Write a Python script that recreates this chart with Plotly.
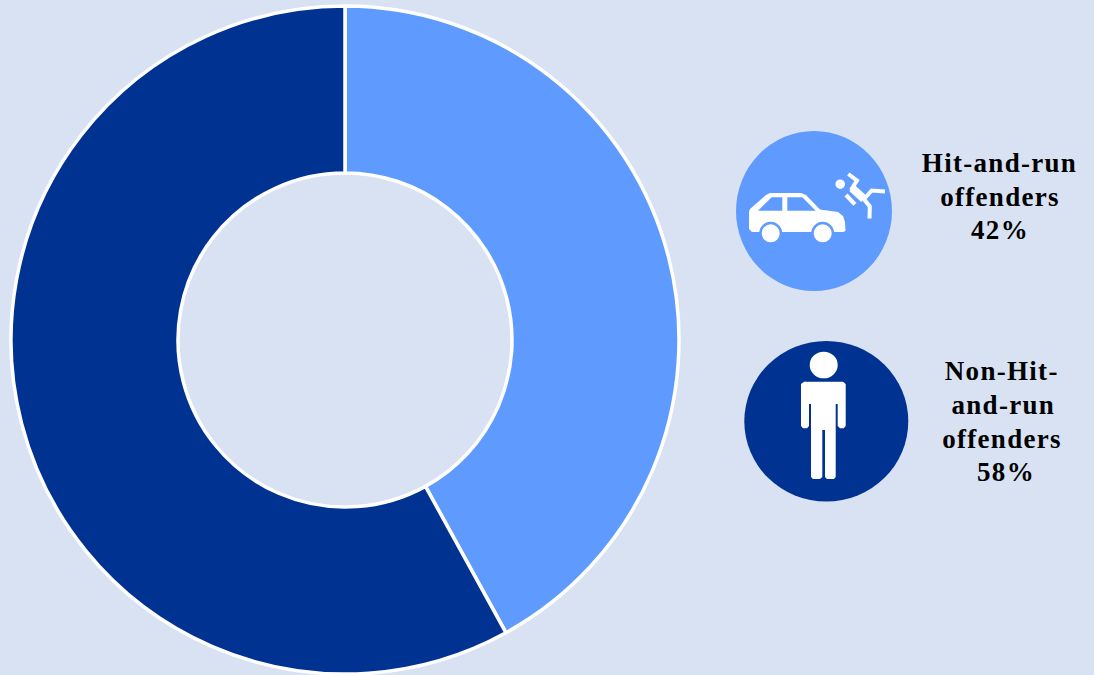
import plotly.graph_objects as go

WIDTH, HEIGHT = 1094, 675

# Share of offenders per group
categories = ["Hit-and-run offenders", "Non-Hit-and-run offenders"]
shares = [42, 58]
label_lines = [["Hit-and-run", "offenders"], ["Non-Hit-", "and-run", "offenders"]]

# Centre of each caption line, in page pixels
caption_x = [[999.5, 999.5, 999.5], [1002, 1003, 1002, 1005.5]]
caption_y = [[163, 197, 230], [371, 405.5, 439, 472]]

LIGHT = "#5F9BFF"
DARK = "#003391"
BACKGROUND = "#D9E2F3"
WHITE = "#FFFFFF"


def fx(x):
    return x / WIDTH


def fy(y):
    return 1 - y / HEIGHT


def path(points, close=True):
    body = " L ".join(f"{fx(x):.5f},{fy(y):.5f}" for x, y in points)
    return "M " + body + (" Z" if close else "")


def ellipse(cx, cy, rx, ry, color):
    return dict(type="circle", xref="paper", yref="paper",
                x0=fx(cx - rx), x1=fx(cx + rx), y0=fy(cy + ry), y1=fy(cy - ry),
                fillcolor=color, line_width=0)


def polygon(points, color=WHITE):
    return dict(type="path", xref="paper", yref="paper", path=path(points),
                fillcolor=color, line_width=0)


def stroke(points, width=4):
    return dict(type="path", xref="paper", yref="paper", path=path(points, close=False),
                line=dict(color=WHITE, width=width))


# Badge behind the car icon
shapes = [ellipse(814, 211, 78, 80, LIGHT)]

# Car body, windows and wheels
shapes += [
    polygon([(749, 212), (750, 209), (766, 195), (770, 193), (801, 193), (806, 195),
             (820, 209.5), (838, 212), (843, 216), (845, 222), (845.5, 231), (843, 232),
             (752, 232), (749, 229)]),
    polygon([(758, 210.7), (771.7, 197.3), (782.3, 197.3), (782.3, 210.7)], LIGHT),
    polygon([(787.3, 197.3), (802.3, 197.3), (815.7, 210.7), (787.3, 210.7)], LIGHT),
    ellipse(770.7, 233.3, 11.5, 11.5, LIGHT),
    ellipse(822.7, 233.3, 11.5, 11.5, LIGHT),
    ellipse(770.7, 233.3, 9, 9, WHITE),
    ellipse(822.7, 233.3, 9, 9, WHITE),
]

# Falling pedestrian
shapes += [
    ellipse(840.2, 184.2, 4.8, 4.8, WHITE),
    stroke([(848.3, 174), (857, 180.5), (851, 190)], 4),
    stroke([(852, 188), (864, 199)], 8),
    stroke([(846, 195), (855, 204.5)], 4),
    stroke([(864, 199), (871.7, 190.5), (885, 191.5)], 4),
    stroke([(863, 198), (869.8, 206.5), (869.5, 218.5)], 4),
]

# Badge behind the standing figure
shapes += [
    ellipse(826.3, 421.3, 82, 80.3, DARK),
    ellipse(823.7, 365, 14, 13.3, WHITE),
    polygon([(804, 381.7), (843, 381.7), (845.7, 384), (845.7, 426), (843.7, 428.3), (840, 428.3),
             (837.7, 426), (837.7, 404), (835.7, 404), (835.7, 477), (834, 479), (827, 479),
             (825, 477), (825, 430), (822.3, 430), (822.3, 477), (820, 479), (813, 479),
             (811, 477), (811, 404), (809, 404), (809, 426), (807, 428.3), (803, 428.3),
             (801, 426), (801, 384)]),
]

annotations = []
for lines, share, xs, ys in zip(label_lines, shares, caption_x, caption_y):
    for text, x, y in zip(lines + [f"{share}%"], xs, ys):
        annotations.append(dict(
            text=text, xref="paper", yref="paper", x=fx(x), y=fy(y),
            xanchor="center", yanchor="middle", align="center", showarrow=False,
            font=dict(family="Liberation Serif", size=27, color="#000000", weight="bold"),
        ))

fig = go.Figure(go.Pie(
    labels=categories,
    values=shares,
    hole=0.5,
    sort=False,
    direction="clockwise",
    rotation=0,
    marker=dict(colors=[LIGHT, DARK], line=dict(color=WHITE, width=3.5)),
    textinfo="none",
    hoverinfo="label+percent",
    showlegend=False,
    domain=dict(x=[fx(11), fx(679)], y=[fy(674), fy(6)]),
))

fig.update_layout(
    width=WIDTH, height=HEIGHT,
    margin=dict(l=0, r=0, t=0, b=0),
    paper_bgcolor=BACKGROUND,
    plot_bgcolor=BACKGROUND,
    shapes=shapes,
    annotations=annotations,
)

# Widen the label tracking, which has no layout attribute of its own
spacing = "document.querySelectorAll('.annotation-text').forEach(function(t){t.style.letterSpacing='1.3px';});"
fig.write_html("out.html", post_script=spacing, config={"displayModeBar": False})
